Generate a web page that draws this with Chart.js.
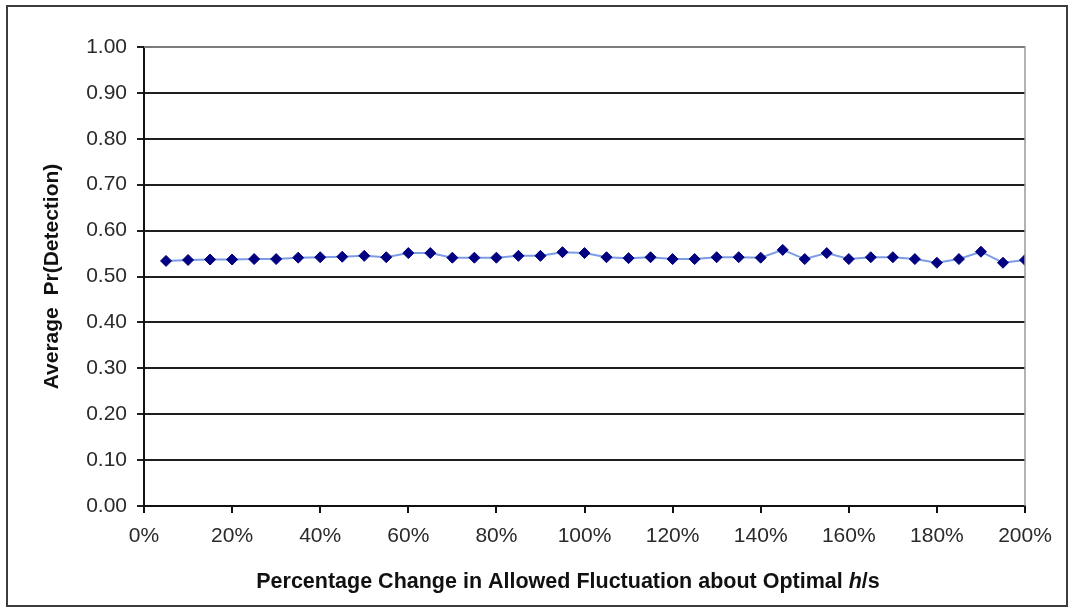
<!DOCTYPE html>
<html>
<head>
<meta charset="utf-8">
<title>Average Pr(Detection) vs Allowed Fluctuation</title>
<script src="https://cdn.jsdelivr.net/npm/chart.js@4.4.1/dist/chart.umd.min.js"></script>
<style>
  html, body { margin: 0; padding: 0; background: #ffffff; }
  #wrap { position: relative; width: 1068px; height: 608px; }
  canvas { display: block; }
</style>
</head>
<body>
<div id="wrap"><canvas id="chart" width="1068" height="608"></canvas></div>
<script>
// Percentage change in allowed fluctuation (x, in %)
const fluctuation = [5, 10, 15, 20, 25, 30, 35, 40, 45, 50,
                     55, 60, 65, 70, 75, 80, 85, 90, 95, 100,
                     105, 110, 115, 120, 125, 130, 135, 140, 145, 150,
                     155, 160, 165, 170, 175, 180, 185, 190, 195, 200];

// Average probability of detection at each fluctuation level
const avgDetection = [0.534, 0.536, 0.537, 0.537, 0.538, 0.538, 0.541, 0.542, 0.543, 0.545,
                      0.542, 0.551, 0.551, 0.541, 0.541, 0.541, 0.545, 0.545, 0.553, 0.551,
                      0.542, 0.540, 0.542, 0.538, 0.538, 0.542, 0.542, 0.541, 0.558, 0.538,
                      0.551, 0.538, 0.542, 0.542, 0.538, 0.530, 0.538, 0.554, 0.530, 0.536];

// Axis settings
const xTicks = { min: 0, max: 200, step: 20 };
const yTicks = { min: 0, max: 1, step: 0.1 };

const yTitle = 'Average  Pr(Detection)';
const xTitleParts = [
  { text: 'Percentage Change in Allowed Fluctuation about Optimal ', italic: false },
  { text: 'h', italic: true },
  { text: '/s', italic: false }
];

const FONT = '"Liberation Sans", Arial, sans-serif';
const PLOT = { left: 144, right: 1025, top: 47, bottom: 506 };

const points = fluctuation.map((x, i) => ({ x: x, y: avgDetection[i] }));

// Outer frame, plot-area top/right edges and the axis titles
const decorations = {
  id: 'decorations',
  beforeDraw(chart) {
    const ctx = chart.ctx;
    ctx.save();
    ctx.fillStyle = '#ffffff';
    ctx.fillRect(0, 0, chart.width, chart.height);
    ctx.restore();
  },
  afterDraw(chart) {
    const ctx = chart.ctx;
    const a = chart.chartArea;
    ctx.save();
    // plot area top and right edges
    ctx.strokeStyle = '#9a9a9a';
    ctx.lineWidth = 1.5;
    ctx.beginPath();
    ctx.moveTo(a.left, a.top);
    ctx.lineTo(a.right, a.top);
    ctx.lineTo(a.right, a.bottom);
    ctx.stroke();

    // outer chart border
    ctx.strokeStyle = '#3c3c3c';
    ctx.lineWidth = 2;
    ctx.strokeRect(7, 6, 1060, 600);

    // y-axis title
    ctx.fillStyle = '#111111';
    ctx.font = 'bold 21px ' + FONT;
    ctx.textAlign = 'center';
    ctx.textBaseline = 'middle';
    ctx.translate(52, (a.top + a.bottom) / 2);
    ctx.rotate(-Math.PI / 2);
    ctx.fillText(yTitle, 0, 0);
    ctx.setTransform(1, 0, 0, 1, 0, 0);

    // x-axis title with italic symbol
    const size = 21.5;
    const fonts = xTitleParts.map(p => (p.italic ? 'italic ' : '') + 'bold ' + size + 'px ' + FONT);
    let total = 0;
    const widths = xTitleParts.map((p, i) => { ctx.font = fonts[i]; const w = ctx.measureText(p.text).width; total += w; return w; });
    let x = 568 - total / 2;
    ctx.textAlign = 'left';
    ctx.textBaseline = 'middle';
    xTitleParts.forEach((p, i) => {
      ctx.font = fonts[i];
      ctx.fillText(p.text, x, 582);
      x += widths[i];
    });
    ctx.restore();
  }
};

new Chart(document.getElementById('chart'), {
  type: 'line',
  data: {
    datasets: [{
      label: 'Average Pr(Detection)',
      data: points,
      borderColor: '#7d9ce6',
      borderWidth: 2,
      backgroundColor: '#000080',
      pointStyle: 'rectRot',
      pointRadius: 5.5,
      pointHoverRadius: 5.5,
      pointBackgroundColor: '#000080',
      pointBorderColor: '#000080',
      pointBorderWidth: 1,
      tension: 0,
      fill: false
    }]
  },
  options: {
    responsive: false,
    animation: false,
    devicePixelRatio: 1,
    layout: {
      padding: { left: 0, right: 1068 - PLOT.right, top: PLOT.top, bottom: 0 }
    },
    plugins: {
      legend: { display: false },
      tooltip: { enabled: false },
      title: { display: false }
    },
    scales: {
      x: {
        type: 'linear',
        min: xTicks.min,
        max: xTicks.max,
        afterFit(scale) { scale.height = 608 - PLOT.bottom; },
        border: { display: true, color: '#111111', width: 2 },
        grid: {
          drawOnChartArea: false,
          drawTicks: true,
          tickLength: 7,
          color: '#111111',
          lineWidth: 2
        },
        ticks: {
          stepSize: xTicks.step,
          padding: 11,
          color: '#2a2a2a',
          font: { family: FONT, size: 21 },
          maxRotation: 0,
          callback: v => v + '%'
        }
      },
      y: {
        min: yTicks.min,
        max: yTicks.max,
        afterFit(scale) { scale.width = PLOT.left; },
        border: { display: true, color: '#111111', width: 2 },
        grid: {
          drawOnChartArea: true,
          drawTicks: true,
          tickLength: 7,
          color: '#1e1e1e',
          lineWidth: 2
        },
        ticks: {
          stepSize: yTicks.step,
          padding: 10,
          color: '#2a2a2a',
          font: { family: FONT, size: 21 },
          callback: v => v.toFixed(2)
        }
      }
    }
  },
  plugins: [decorations]
});
</script>
</body>
</html>
